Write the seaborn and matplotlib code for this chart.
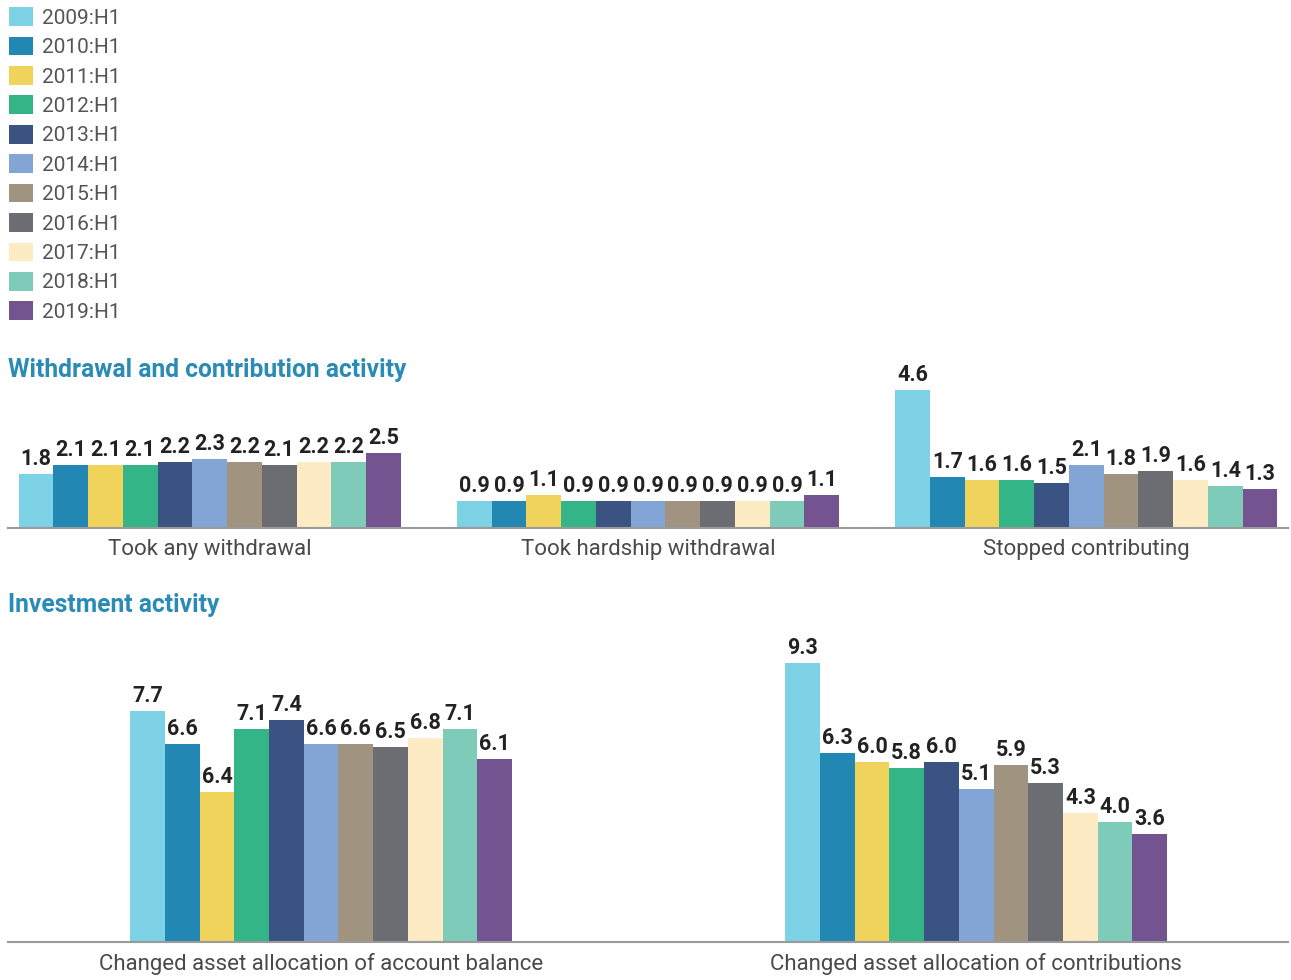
import pandas as pd
import matplotlib.pyplot as plt
import seaborn as sns

years = ["2009:H1", "2010:H1", "2011:H1", "2012:H1", "2013:H1", "2014:H1",
         "2015:H1", "2016:H1", "2017:H1", "2018:H1", "2019:H1"]
colors = ["#7DD3E5", "#2287B3", "#F0D35B", "#33B588", "#3B5383", "#82A5D6",
          "#A09480", "#6B6D72", "#FDEBC3", "#7ECBBA", "#735490"]

top_categories = ["Took any withdrawal", "Took hardship withdrawal", "Stopped contributing"]
any_withdrawal = [1.8, 2.1, 2.1, 2.1, 2.2, 2.3, 2.2, 2.1, 2.2, 2.2, 2.5]
hardship = [0.9, 0.9, 1.1, 0.9, 0.9, 0.9, 0.9, 0.9, 0.9, 0.9, 1.1]
stopped = [4.6, 1.7, 1.6, 1.6, 1.5, 2.1, 1.8, 1.9, 1.6, 1.4, 1.3]

bottom_categories = ["Changed asset allocation of account balance",
                     "Changed asset allocation of contributions"]
balance = [7.7, 6.6, 6.4, 7.1, 7.4, 6.6, 6.6, 6.5, 6.8, 7.1, 6.1]
# the 2011 bar is drawn at about 5.0 in the source even though it reads 6.4
balance_heights = [7.7, 6.6, 5.0, 7.1, 7.4, 6.6, 6.6, 6.5, 6.8, 7.1, 6.1]
contributions = [9.3, 6.3, 6.0, 5.8, 6.0, 5.1, 5.9, 5.3, 4.3, 4.0, 3.6]

sns.set_theme(style="white")
plt.rcParams["font.family"] = ["Roboto", "DejaVu Sans"]

W, H = 1291, 980
fig = plt.figure(figsize=(W / 100, H / 100), dpi=100)


def long_frame(categories, series, heights):
    rows = []
    for cat, vals, hts in zip(categories, series, heights):
        for yr, v, h in zip(years, vals, hts):
            rows.append({"category": cat, "year": yr, "value": h, "label": f"{v:.1f}"})
    return pd.DataFrame(rows)


def draw_panel(ax, df, categories, width, ymax, xlim):
    sns.barplot(data=df, x="category", y="value", hue="year", order=categories,
                hue_order=years, palette=colors, width=width, saturation=1,
                errorbar=None, linewidth=0, ax=ax)
    for container, yr in zip(ax.containers, years):
        labels = [df[(df.category == c) & (df.year == yr)].label.iloc[0] for c in categories]
        ax.bar_label(container, labels=labels, padding=3, fontsize=15.5,
                     fontweight="bold", color="#222222")
    ax.set_ylim(0, ymax)
    ax.set_xlim(*xlim)
    ax.set_xlabel("")
    ax.set_ylabel("")
    ax.set_yticks([])
    sns.despine(ax=ax, left=True)
    ax.spines["bottom"].set_color("#9a9a9a")
    ax.spines["bottom"].set_linewidth(1.5)
    ax.tick_params(axis="x", length=0, pad=8, labelsize=16, labelcolor="#4a4a4a")


top_df = long_frame(top_categories, [any_withdrawal, hardship, stopped],
                    [any_withdrawal, hardship, stopped])
bottom_df = long_frame(bottom_categories, [balance, contributions],
                       [balance_heights, contributions])

ax_top = fig.add_axes([8 / W, 452 / H, 1280 / W, 150 / H])
draw_panel(ax_top, top_df, top_categories, 0.872, 5, (-0.46, 2.46))
handles, labels = ax_top.get_legend_handles_labels()
ax_top.get_legend().remove()

ax_bot = fig.add_axes([8 / W, 38 / H, 1280 / W, 300 / H])
draw_panel(ax_bot, bottom_df, bottom_categories, 0.583, 10, (-0.478, 1.476))
ax_bot.get_legend().remove()

leg = fig.legend(handles, labels, loc="upper left", bbox_to_anchor=(3 / W, 1 - 1 / H),
                 frameon=False, fontsize=15, handlelength=1.15, handleheight=1.0,
                 handletextpad=0.4, labelspacing=0.43, borderaxespad=0, borderpad=0.3)
for t in leg.get_texts():
    t.set_color("#555555")

fig.text(8 / W, 1 - 370 / H, "Withdrawal and contribution activity", fontsize=17.7,
         fontweight="bold", color="#2A8BB6", va="center")
fig.text(8 / W, 1 - 605 / H, "Investment activity", fontsize=17.7,
         fontweight="bold", color="#2A8BB6", va="center")

fig.savefig("out.png", dpi=100)
